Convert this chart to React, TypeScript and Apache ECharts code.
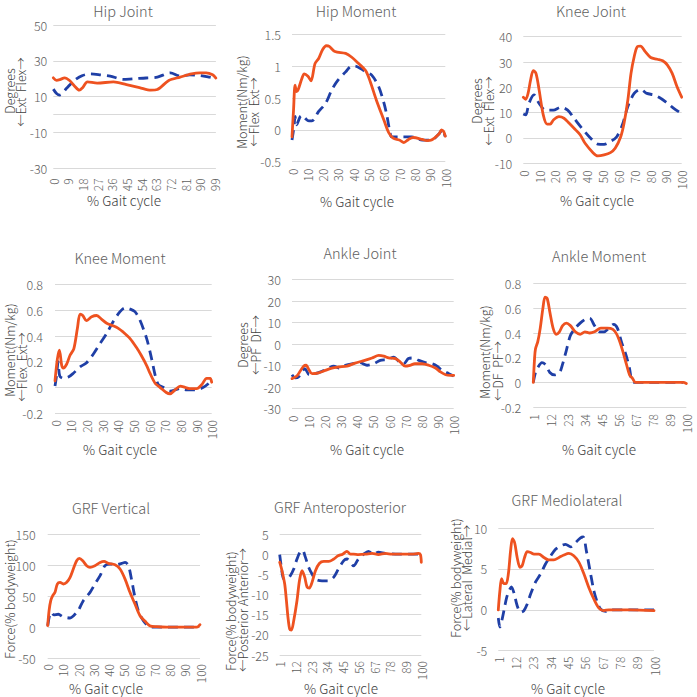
import React, { useEffect, useRef } from "react";
import * as echarts from "echarts";

const FONT = '"Noto Sans CJK JP", "Noto Sans", sans-serif';
const ORANGE = "#EE5220";
const BLUE = "#1F3FA6";
const GRID = "#D9D9D9";
const LABEL = "#5E5E5E";
const AXIS_TITLE = "#404040";

// ---- titles ----
const titles = [
  "Hip Joint", "Hip Moment", "Knee Joint",
  "Knee Moment", "Ankle Joint", "Ankle Moment",
  "GRF Vertical", "GRF Anteroposterior", "GRF Mediolateral",
];
const yTitles: string[][] = [
  ["Degrees", "←Ext  Flex→"],
  ["Moment(Nm/kg)", "←Flex  Ext→"],
  ["Degrees", "←Ext  Flex→"],
  ["Moment(Nm/kg)", "←Flex  Ext→"],
  ["Degrees", "←PF  DF→"],
  ["Moment(Nm/kg)", "←DF  PF→"],
  ["Force(% bodyweight)"],
  ["Force(% bodyweight)", "←Posterior Anterior→"],
  ["Force(% bodyweight)", "←Lateral  Medial→"],
];
const xTitle = "% Gait cycle";

// y axis ranges [min, max, step]
const yRanges: number[][] = [
  [-30, 50, 20], [-0.5, 1.5, 0.5], [-10, 40, 10],
  [-0.2, 0.8, 0.2], [-30, 30, 10], [-0.2, 0.8, 0.2],
  [-50, 150, 50], [-25, 5, 5], [-5, 10, 5],
];
// x axis tick labelling: [first label, step, last category]
const xTicks: number[][] = [
  [0, 9, 100], [0, 10, 100], [0, 10, 100],
  [0, 10, 100], [0, 10, 100], [1, 11, 100],
  [0, 10, 100], [1, 11, 100], [1, 11, 100],
];

// ---- data: [% gait cycle, value] ----
const hipJointOrange = [[0,20.5],[2,19.1],[4,19.5],[7,20.5],[10,19],[13,16],[16,13.6],[18,15],[21,18.2],[27,17.6],[37,18.2],[45,16.7],[53,15.1],[60,13.6],[64,14],[71,19],[78,20.9],[85,22.7],[90,23.3],[94,23.3],[98,22.2],[100,20.4]];
const hipJointBlue = [[0,14.2],[2,11.8],[4,10.9],[8,14.5],[13,19.1],[18,21.8],[23,22.7],[29,22.2],[35,21.5],[43,19.6],[49,20],[57,20.4],[64,20.9],[72,23.3],[78,21.5],[84,22.2],[90,21.8],[96,20.9],[98,20.5]];

const hipMomentOrange = [[0,-0.11],[1,0.31],[2,0.7],[3,0.6],[4,0.63],[6.5,0.81],[8,0.88],[10.4,0.84],[12.4,0.77],[15,1.04],[17.4,1.12],[20,1.26],[22.4,1.32],[24.3,1.31],[28,1.23],[35,1.2],[39,1.14],[43.5,1.04],[48,0.93],[51,0.76],[55,0.47],[60,0.15],[63,-0.04],[66,-0.13],[70,-0.16],[73,-0.2],[76,-0.15],[79,-0.12],[85,-0.15],[88,-0.17],[91,-0.16],[96,-0.06],[97.5,0],[99,-0.03],[100,-0.1]];
const hipMomentBlue = [[0,-0.16],[1.3,0.05],[2,0.21],[3,0.08],[5.4,0.21],[7,0.23],[8.7,0.18],[11,0.14],[13,0.14],[17.4,0.29],[22,0.42],[26,0.63],[30,0.78],[35,0.91],[38,0.99],[41,1.0],[45,0.96],[48,0.91],[52,0.86],[56.5,0.68],[60,0.42],[62,0.21],[64,-0.05],[65,-0.11],[70,-0.11],[78,-0.11],[85,-0.16],[91,-0.16],[96,-0.06],[98,0],[100,-0.11]];

const kneeJointOrange = [[0,16.1],[1.5,15.3],[3,17.6],[4.6,22.9],[6.3,26.6],[8,25.5],[10,18.9],[12.6,9.1],[15,5.5],[17,5.5],[19,7.1],[22.5,8.4],[25.7,7.8],[29,5.8],[33,3.2],[36,1.2],[39,-2.1],[44,-5.8],[47,-7.1],[51,-6.7],[55,-5.8],[58,-4.1],[61.5,0.5],[63.6,5.8],[66,15],[68,25.5],[70,32.1],[72,36.1],[74,36.3],[77,34.1],[80.4,31.8],[84.6,31.1],[88,30.5],[91,28.8],[94,25.5],[97,20.3],[100,16.1]];
const kneeJointBlue = [[0,9.5],[1.5,9.1],[3.6,13.7],[6.7,17],[10,13.7],[14,11],[19,11],[23.6,12.1],[28,11],[32,7.8],[37,3.8],[42.5,-0.1],[47,-2.4],[51,-2.5],[55,-1.4],[59,0.5],[62.5,5.1],[66,12.4],[70,17.6],[74,19.2],[78,17.6],[82.5,17],[86.7,15.7],[91,13.7],[95,11.7],[99,10]];

const kneeMomentOrange = [[0,0.05],[1.5,0.22],[2.8,0.29],[4.3,0.17],[5.3,0.15],[7.4,0.18],[9.6,0.25],[12,0.3],[14.3,0.46],[16,0.57],[17.7,0.56],[20,0.52],[23.4,0.55],[26.6,0.56],[29.8,0.53],[33,0.5],[37,0.48],[40.4,0.46],[43.6,0.43],[47.9,0.38],[52,0.31],[55,0.25],[58.5,0.17],[60.6,0.11],[64,0.03],[67,0],[71,-0.04],[73.4,-0.05],[76.6,-0.02],[80,0.01],[83,0],[86,-0.01],[90.4,-0.01],[93.6,0.02],[96.8,0.07],[99,0.07],[100,0.04]];
const kneeMomentBlue = [[0,0.01],[1,0.09],[2,0.2],[3,0.09],[5.3,0.07],[8.5,0.08],[11.7,0.11],[16,0.16],[20,0.19],[24.5,0.26],[28.7,0.34],[33,0.42],[37,0.51],[41.5,0.59],[44.7,0.62],[48,0.61],[51,0.59],[54,0.53],[58.5,0.38],[61.7,0.22],[64,0.09],[66,0.02],[69,0],[73.4,-0.03],[80,-0.01],[84,-0.02],[90,-0.02],[94.7,0],[98,0.03]];

const ankleJointOrange = [[0,-16],[3,-14.8],[5,-12.6],[7.2,-10.2],[8.7,-9.8],[10.7,-12.2],[12.4,-13.7],[16.5,-13.3],[20.6,-12.2],[24.7,-11.1],[28.9,-10.6],[34,-10.2],[39,-8.8],[45,-7.5],[49.5,-6.4],[53.6,-5.2],[56.7,-5.5],[59.8,-6.4],[64,-6.7],[67,-8.3],[70,-10.2],[73,-9.8],[76,-9.1],[80.4,-9.1],[84.5,-9.8],[88.7,-11.1],[91.8,-12.9],[95,-14.2],[98,-14.5],[100,-14.5]];
const ankleJointBlue = [[0,-14.2],[2,-15.7],[4,-15.3],[6,-12.9],[8,-11.4],[10.7,-14.2],[14.4,-13.7],[18.6,-12.6],[22.7,-11.1],[25.8,-10.2],[28.9,-11.1],[33,-9.8],[37,-9.1],[42,-8.6],[46.4,-9.8],[50.5,-9.1],[54.6,-7.5],[58.8,-7.1],[63,-6],[66,-8],[69,-9.1],[72,-6.7],[75,-6.4],[78.4,-7.5],[82.5,-8.6],[86.6,-9.1],[89.7,-10.2],[92.8,-12.2],[97,-13.7],[100,-14.8]];

const ankleMomentOrange = [[1,0],[1.8,0.19],[2.4,0.27],[3.9,0.33],[5.5,0.44],[7.2,0.6],[8.6,0.69],[10,0.68],[11.7,0.57],[13.8,0.44],[15.8,0.39],[17.9,0.41],[20,0.46],[22.4,0.48],[25,0.46],[28.2,0.41],[31.3,0.39],[34.4,0.41],[37.5,0.4],[40.6,0.41],[44.7,0.44],[48.8,0.44],[52.5,0.43],[55,0.39],[58,0.29],[61.2,0.15],[63.3,0.06],[65.3,0.03],[67,0],[71.5,0],[81.8,0],[92,0],[96,0],[98,0],[100,-0.01]];
const ankleMomentBlue = [[1,0],[2.4,0.08],[3.9,0.12],[6.6,0.16],[9.2,0.14],[11.7,0.08],[14.8,0.06],[18,0.08],[20,0.15],[22.4,0.26],[25,0.38],[28.2,0.44],[31.3,0.48],[34.4,0.51],[37.5,0.52],[40.6,0.46],[43.7,0.41],[46.8,0.41],[49.9,0.44],[53,0.47],[55.4,0.44],[58,0.33],[61,0.22],[63.3,0.11],[64.7,0.01],[66.4,0],[73.6,0],[82,0],[90,0],[98,0]];

const grfVerticalOrange = [[0,2.4],[0.9,26.8],[2,43],[3.3,51],[4.8,56.5],[6.3,70],[8.1,72.7],[10.3,70],[12.5,72.7],[14.7,80.8],[16.8,94.3],[19,107.8],[20.8,111.6],[23,107.8],[25.6,99.7],[27.8,97],[31,99.7],[34.4,105],[37,106.8],[39.8,103.5],[44.2,101.4],[47.5,94.3],[50.8,78],[54,56.5],[57.3,37.6],[60.6,18.6],[64,9.5],[67,2.4],[71.5,0.8],[78,0],[89,0],[98,0],[100,4]];
const grfVerticalBlue = [[0,2.4],[1.5,22],[2.5,24],[4,20],[7,21],[10,17],[14.7,14.9],[17,18.6],[20,26.8],[23.4,43],[27.8,56.5],[31,70],[34.4,83.5],[37.6,99.7],[41,102.4],[45.3,101.4],[48.6,103.5],[50.8,105],[53,99.7],[55,78],[57.3,48.4],[59.5,26.8],[62.8,10.5],[66,2.4],[69,0],[80,0],[90,0],[100,0]];

const grfAPOrange = [[1,-2],[2.6,-4.1],[4.5,-7.4],[5.7,-11.5],[6.8,-15.7],[8,-18.6],[9.2,-18.8],[10.8,-16.5],[13.1,-11.5],[14.8,-6.6],[16.6,-4.1],[18.5,-5.7],[20.1,-8.1],[21.7,-8.4],[23.6,-7],[26,-4.1],[28.7,-2.3],[31.8,-1.8],[35.3,-1.8],[38.8,-1.2],[41.8,-0.4],[45,0],[48,0.7],[50.4,0],[52.7,0],[56,-0.1],[61,0],[65.6,0.2],[70,-0.1],[74.9,0.2],[79.5,0],[84,0],[89,0],[93.5,0],[98,0.2],[99.4,-0.1],[100,-2]];
const grfAPBlue = [[1,-0.1],[2.2,-3.3],[3.8,-6.2],[6.1,-6.2],[8.5,-5.3],[10.8,-3.7],[13.1,-1.2],[15.5,0.7],[17,0.9],[19,-0.8],[21.3,-3.3],[23.6,-4.9],[26,-6.2],[30.6,-6.6],[35,-6.6],[38.8,-5.7],[42,-3.7],[45.8,-1.6],[48,-1.2],[50.4,-2],[52.7,-2.9],[56,-1.2],[59.7,0],[63,0.7],[66.7,0],[70,0.5],[74.9,0.2],[84,0],[93.5,0],[99.4,0]];

const grfMLOrange = [[1,0],[2,2.3],[3.1,3.8],[4.6,3.2],[6,3.2],[7.4,4.4],[8.8,7.2],[10,8.7],[11.4,8.2],[13,6.4],[14.8,5.2],[16.2,5.4],[17.7,6.4],[19.4,7.1],[21.5,7],[23.7,6.8],[26.8,6.8],[30,6.4],[33,6.1],[36.4,6.1],[39.6,6.4],[42.7,6.7],[45.9,6.9],[49,6.6],[52.3,5.8],[55.4,4.4],[58.6,2.7],[61.8,1.3],[65,0.2],[68,-0.1],[71.3,0],[85,0],[100,-0.1]];
const grfMLBlue = [[1,-1],[2,-2.1],[3.5,-1.1],[5,0.3],[6.3,1.5],[7.8,2.3],[9.3,2.8],[10.9,2.1],[13,0.5],[15.2,-0.3],[17.3,-0.1],[19.4,0.7],[21.5,1.9],[24.7,3.4],[27.9,4.4],[31,5.6],[34.3,6.6],[37.4,7.4],[40.6,7.8],[43.8,8],[47,7.7],[50,8.2],[53.3,8.8],[55,8.9],[57,7.2],[59.3,4.8],[61.8,2.3],[64,0.9],[66,0.1],[69.2,-0.2],[72.4,0],[85,0],[100,0]];

const orangeSeries = [hipJointOrange, hipMomentOrange, kneeJointOrange, kneeMomentOrange, ankleJointOrange, ankleMomentOrange, grfVerticalOrange, grfAPOrange, grfMLOrange];
const blueSeries = [hipJointBlue, hipMomentBlue, kneeJointBlue, kneeMomentBlue, ankleJointBlue, ankleMomentBlue, grfVerticalBlue, grfAPBlue, grfMLBlue];

// ---- layout (pixels) ----
const grids = [
  { left: 53.3, top: 25, width: 162.6, height: 143.3 },
  { left: 292, top: 34.3, width: 153.3, height: 127.4 },
  { left: 523.3, top: 36.7, width: 158.4, height: 126.6 },
  { left: 55, top: 284.7, width: 156.7, height: 128.3 },
  { left: 292, top: 279.7, width: 161.7, height: 129 },
  { left: 533.3, top: 283.7, width: 153, height: 123.3 },
  { left: 47.7, top: 534.7, width: 152.3, height: 123.3 },
  { left: 279.7, top: 534, width: 141.6, height: 121 },
  { left: 498.3, top: 528, width: 155.7, height: 122.7 },
];
const yLabelMargin = [6, 11, 11, 12, 11, 12, 12, 11, 11];
const xLabelMargin = [10, 7, 7, 7, 7, 7, 6, 6, 6];
const titlePos = [[123, 10], [356, 10], [591, 10.5], [120, 257], [360, 252], [599, 255], [111, 507], [340, 506], [567, 499]];
const xTitlePos = [[124, 200], [357, 201], [597, 200], [120, 449], [367, 449], [599, 449], [106, 688], [341, 688], [568, 688]];
const yTitlePos: number[][][] = [
  [[9, 91], [20.5, 92]],
  [[241, 102], [253, 112]],
  [[476, 101], [488.5, 111]],
  [[9, 350], [21, 367]],
  [[242, 345], [255.5, 345]],
  [[484, 352], [497, 371]],
  [[9, 599]],
  [[230.5, 611], [242, 610]],
  [[455, 578], [466.5, 578]],
];

function text(x: number, y: number, s: string, size: number, color: string, rot = 0) {
  return {
    type: "text",
    x,
    y,
    rotation: rot,
    silent: true,
    style: {
      text: s,
      fill: color,
      font: `300 ${size}px ${FONT}`,
      fontSize: size,
      fontWeight: 300,
      fontFamily: FONT,
      align: "center",
      verticalAlign: "middle",
      textAlign: "center",
      textVerticalAlign: "middle",
    },
  };
}

function buildOption() {
  const grid: any[] = [];
  const xAxis: any[] = [];
  const yAxis: any[] = [];
  const series: any[] = [];
  const graphic: any[] = [];

  for (let i = 0; i < 9; i++) {
    grid.push({ ...grids[i], containLabel: false });
    const [first, step, last] = xTicks[i];
    const offset = first; // shift so that the first labelled tick lands on 0
    const xMax = last - offset;
    xAxis.push({
      type: "value",
      gridIndex: i,
      min: 0,
      max: xMax,
      interval: step,
      axisLine: { show: false },
      axisTick: { show: false },
      splitLine: { show: false },
      axisLabel: {
        rotate: 90,
        margin: xLabelMargin[i],
        color: LABEL,
        fontSize: 12,
        fontWeight: 300,
        fontFamily: FONT,
        showMaxLabel: true,
        showMinLabel: true,
        hideOverlap: false,
        formatter: (v: number) => {
          if (Math.round(v) % step !== 0) return "";
          return String(Math.round(v + offset));
        },
      },
    });
    const [ymin, ymax, ystep] = yRanges[i];
    yAxis.push({
      type: "value",
      gridIndex: i,
      min: ymin,
      max: ymax,
      interval: ystep,
      axisLine: { show: false },
      axisTick: { show: false },
      splitLine: { show: true, lineStyle: { color: GRID, width: 1 } },
      axisLabel: {
        margin: yLabelMargin[i],
        color: LABEL,
        fontSize: 12.5,
        fontWeight: 300,
        fontFamily: FONT,
      },
    });
    const shift = (d: number[][]) => d.map(([x, y]) => [x - offset, y]);
    series.push({
      type: "line",
      xAxisIndex: i,
      yAxisIndex: i,
      data: shift(blueSeries[i]),
      showSymbol: false,
      symbol: "none",
      smooth: 0.3,
      lineStyle: { color: BLUE, width: 2.8, type: [10, 6], cap: "butt" },
      z: 2,
      markLine:
        i === 0
          ? {
              silent: true,
              symbol: ["none", "none"],
              label: { show: false },
              lineStyle: { color: GRID, type: "solid", width: 1 },
              data: [{ yAxis: 0 }],
              z: 1,
            }
          : undefined,
    });
    series.push({
      type: "line",
      xAxisIndex: i,
      yAxisIndex: i,
      data: shift(orangeSeries[i]),
      showSymbol: false,
      symbol: "none",
      smooth: 0.3,
      lineStyle: { color: ORANGE, width: 2.8, cap: "round", join: "round" },
      z: 3,
    });

    graphic.push(text(titlePos[i][0], titlePos[i][1], titles[i], 14.5, LABEL));
    graphic.push(text(xTitlePos[i][0], xTitlePos[i][1], xTitle, 13.5, AXIS_TITLE));
    yTitles[i].forEach((s, k) => {
      graphic.push(text(yTitlePos[i][k][0], yTitlePos[i][k][1], s, 12.5, AXIS_TITLE, Math.PI / 2));
    });
  }

  return {
    animation: false,
    backgroundColor: "#ffffff",
    textStyle: { fontFamily: FONT },
    grid,
    xAxis,
    yAxis,
    series,
    graphic: { elements: graphic },
  };
}

export default function App() {
  const ref = useRef<HTMLDivElement>(null);
  useEffect(() => {
    if (!ref.current) return;
    const chart = echarts.init(ref.current, undefined, { renderer: "svg" });
    chart.setOption(buildOption() as any);
    return () => chart.dispose();
  }, []);
  return (
    <div
      ref={ref}
      style={{ position: "fixed", left: 0, top: 0, width: 697, height: 697, background: "#fff" }}
    />
  );
}
